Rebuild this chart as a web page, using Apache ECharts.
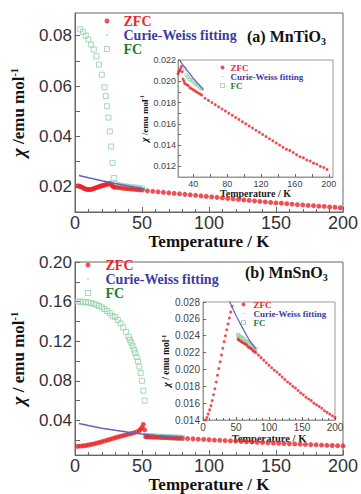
<!DOCTYPE html>
<html>
<head>
<meta charset="utf-8">
<script src="https://cdn.jsdelivr.net/npm/echarts@6/dist/echarts.min.js"></script>
<style>
  html, body { margin: 0; padding: 0; background: #fff; }
  #chart { width: 361px; height: 494px; }
</style>
</head>
<body>
<div id="chart"></div>
<script>
// (a) MnTiO3 : [T (K), chi (emu/mol)]
const zfcA = [
  [2,0.0204],[3,0.0203],[4,0.0201],[5,0.0199],[6,0.0196],[7,0.0193],[8,0.0191],[9,0.0190],[10,0.0189],
  [11,0.0189],[12,0.0190],[13,0.0191],[14,0.0193],[15,0.0195],[16,0.0197],[17,0.0199],[18,0.0201],
  [19,0.0203],[20,0.0204],[21,0.0206],[22,0.0207],[23,0.0209],[24,0.0210],[25,0.0212],[26,0.0214],
  [27,0.0209],[28,0.0202],[29,0.0200],[30,0.0198],[32,0.0197],[34,0.0196],[36,0.0194],[38,0.0193],
  [40,0.0192],[42,0.0191],[44,0.0190],[46,0.0189],[48,0.0188],[50,0.0187],
  [54,0.0184],[58,0.0182],[62,0.0180],[66,0.0178],[70,0.0176],[74,0.0174],[78,0.0172],[82,0.0170],
  [86,0.0168],[90,0.0166],[94,0.0164],[98,0.0162],[102,0.0160],[106,0.0158],[110,0.0156],[114,0.0154],
  [118,0.0152],[122,0.0150],[126,0.0148],[130,0.0146],[134,0.0144],[138,0.0142],[142,0.0140],[146,0.0138],
  [150,0.0136],[154,0.0135],[158,0.0133],[162,0.0131],[166,0.0129],[170,0.0128],[174,0.0126],[178,0.0125],
  [182,0.0123],[186,0.0122],[190,0.0120],[194,0.0119],[198,0.0117]
];
const fcA = [
  [4,0.0825],[6,0.0815],[8,0.0800],[10,0.0785],[12,0.0765],[14,0.0745],[16,0.0718],[18,0.0685],
  [20,0.0645],[22,0.0595],[23,0.0560],[24,0.0520],[25,0.0475],[26,0.0420],[27,0.0360],[28,0.0295],
  [29,0.0235],[30,0.0212],[32,0.0206],[34,0.0204],[36,0.0202],[38,0.0201],[40,0.0200],[42,0.0198],
  [44,0.0197],[46,0.0196],[48,0.0194],[50,0.0193]
];
const cwA = [[3,0.0245],[10,0.0236],[20,0.0224],[30,0.0213],[40,0.0203],[52,0.0192]];

// (b) MnSnO3
const zfcB = [
  [2,0.0138],[4,0.0140],[6,0.0143],[8,0.0147],[10,0.0152],[12,0.0157],[14,0.0163],[16,0.0170],
  [18,0.0177],[20,0.0185],[22,0.0193],[24,0.0201],[26,0.0209],[28,0.0217],[30,0.0225],[32,0.0233],
  [34,0.0240],[36,0.0247],[38,0.0254],[40,0.0261],[42,0.0268],[44,0.0275],[46,0.0285],[48,0.0298],
  [49,0.0312],[50,0.0330],[51,0.0360],[52,0.0305],
  [53,0.0236],[54,0.0235],[56,0.0234],[58,0.0233],[60,0.0232],[62,0.0231],[64,0.0230],[66,0.0229],
  [68,0.0227],[70,0.0226],[72,0.0225],[74,0.0224],[76,0.0222],[78,0.0221],[80,0.0220],
  [84,0.0217],[88,0.0214],[92,0.0211],[96,0.0208],[100,0.0205],[104,0.0202],[108,0.0199],[112,0.0197],
  [116,0.0194],[120,0.0191],[124,0.0188],[128,0.0185],[132,0.0183],[136,0.0180],[140,0.0178],[144,0.0175],
  [148,0.0172],[152,0.0170],[156,0.0167],[160,0.0165],[164,0.0163],[168,0.0160],[172,0.0158],[176,0.0156],
  [180,0.0154],[184,0.0151],[188,0.0149],[192,0.0147],[196,0.0145],[200,0.0143]
];
const fcB = [
  [2,0.1600],[4,0.1600],[6,0.1598],[8,0.1595],[10,0.1590],[12,0.1585],[14,0.1578],[16,0.1568],
  [18,0.1556],[20,0.1542],[22,0.1525],[24,0.1505],[26,0.1482],[28,0.1456],[30,0.1445],[32,0.1415],
  [34,0.1380],[36,0.1340],[38,0.1295],[40,0.1245],[41,0.1215],[42,0.1185],[43,0.1150],[44,0.1115],
  [45,0.1080],[46,0.1040],[47,0.0995],[48,0.0945],[49,0.0880],[50,0.0800],[51,0.0700],[52,0.0600],
  [53,0.0241],[54,0.0240],[56,0.0239],[58,0.0238],[60,0.0237],[62,0.0236],[64,0.0234],[66,0.0233],
  [68,0.0232],[70,0.0231],[72,0.0229],[74,0.0228],[76,0.0227],[78,0.0225],[80,0.0224]
];
const cwB = [[3,0.0370],[10,0.0348],[20,0.0321],[30,0.0300],[40,0.0281],[50,0.0264],[60,0.0249],[70,0.0235],[80,0.0224]];

// tick values
const yLabelsA = [0.02, 0.04, 0.06, 0.08];
const yTicksA = [0.02, 0.03, 0.04, 0.05, 0.06, 0.07, 0.08];
const yLabelsB = [0.04, 0.08, 0.12, 0.16, 0.20];
const yTicksB = [0.02, 0.04, 0.06, 0.08, 0.10, 0.12, 0.14, 0.16, 0.18, 0.20];
const xLabelsInsetA = [40, 80, 120, 160, 200];
const xTicksInsetA = [40, 60, 80, 100, 120, 140, 160, 180, 200];
const yLabelsInsetA = [0.012, 0.014, 0.016, 0.018, 0.020, 0.022];
const yTicksInsetA = [0.012, 0.013, 0.014, 0.015, 0.016, 0.017, 0.018, 0.019, 0.020, 0.021, 0.022];

const RED = '#e8262b';
const BLUE = '#3b3ba0';
const LINE_BLUE = '#6262bb';
const GREEN = '#1f7a30';
const GREEN_L = '#8fcfa8';
const SERIF = '"Liberation Serif", "Times New Roman", serif';
const SANS = '"Liberation Sans", Arial, sans-serif';

// legend icons drawn inside a square box so they keep their shape
const DASH_ICON = 'path://M0,0M6,6M1.5,2.5H4.5V3.5H1.5Z';
const SQUARE_ICON = 'path://M0.5,0.5H5.5V5.5H0.5Z';

const chart = echarts.init(document.getElementById('chart'), null, { renderer: 'svg' });

function chiName(size, text) {
  return {
    name: '{c|χ}{t|' + text + '}{s|-1}',
    nameTextStyle: {
      rich: {
        c: { fontFamily: SERIF, fontWeight: 'bold', fontStyle: 'italic', fontSize: size * 1.1, color: '#111' },
        t: { fontFamily: SERIF, fontWeight: 'bold', fontSize: size, color: '#111' },
        s: { fontFamily: SERIF, fontWeight: 'bold', fontSize: size * 0.6, lineHeight: size * 0.6, verticalAlign: 'top', color: '#111' }
      }
    }
  };
}

function xAxis(grid, min, max, opt) {
  return Object.assign({
    gridIndex: grid, type: 'value', min: min, max: max,
    axisLine: { lineStyle: { color: '#666' } },
    splitLine: { show: false },
    nameLocation: 'middle'
  }, opt);
}

const tickStyle = { color: '#666' };

function legendBox(left, top, iconSize, fontSize, gap, textPad) {
  return {
    left: left, top: top, padding: 0, orient: 'vertical', itemGap: gap,
    itemWidth: iconSize, itemHeight: iconSize, selectedMode: false,
    textStyle: { fontFamily: SERIF, fontWeight: 'bold', fontSize: fontSize, padding: [0, 0, 0, textPad] },
    data: [
      { name: 'ZFC', icon: 'circle', itemStyle: { color: RED, borderWidth: 0 }, textStyle: { color: RED } },
      { name: 'Curie-Weiss fitting', icon: DASH_ICON, itemStyle: { color: '#9db0d8', borderWidth: 0 }, textStyle: { color: BLUE } },
      { name: 'FC', icon: SQUARE_ICON, itemStyle: { color: 'transparent', borderColor: GREEN_L, borderWidth: 1 }, textStyle: { color: GREEN } }
    ]
  };
}

function panelSeries(i, fc, cw, zfc, size, lw) {
  return [
    {
      name: 'FC', type: 'scatter', xAxisIndex: i, yAxisIndex: i, data: fc, silent: true,
      symbol: 'rect', symbolSize: size,
      itemStyle: { color: 'transparent', borderColor: GREEN_L, borderWidth: 1 }
    },
    {
      name: 'Curie-Weiss fitting', type: 'line', xAxisIndex: i, yAxisIndex: i, data: cw, silent: true,
      showSymbol: false, lineStyle: { color: LINE_BLUE, width: lw }
    },
    {
      name: 'ZFC', type: 'scatter', xAxisIndex: i, yAxisIndex: i, data: zfc, silent: true,
      symbol: 'circle', symbolSize: size, itemStyle: { color: RED }
    }
  ];
}

const option = {
  animation: false,
  backgroundColor: '#fff',
  grid: [
    { left: 75, top: 13, width: 269, height: 199, show: true, borderColor: '#666', borderWidth: 1 },
    { left: 178, top: 60, width: 155, height: 117, show: true, borderColor: '#999', borderWidth: 1, backgroundColor: '#fff' },
    { left: 75, top: 262, width: 269, height: 196, show: true, borderColor: '#666', borderWidth: 1 },
    { left: 203, top: 302, width: 132, height: 118, show: true, borderColor: '#999', borderWidth: 1, backgroundColor: '#fff' }
  ],
  xAxis: [
    xAxis(0, 0, 200, {
      interval: 50,
      axisTick: { inside: true, length: 5, lineStyle: tickStyle },
      minorTick: { show: true, splitNumber: 5, length: 3, lineStyle: tickStyle },
      axisLabel: { margin: 2, fontSize: 18, color: '#333', fontFamily: SANS },
      name: 'Temperature / K', nameGap: 18,
      nameTextStyle: { fontFamily: SERIF, fontWeight: 'bold', fontSize: 17, color: '#111' }
    }),
    xAxis(1, 22, 205, {
      axisTick: { inside: true, length: 3, lineStyle: tickStyle, customValues: xTicksInsetA },
      axisLabel: { margin: 2, fontSize: 9, color: '#444', fontFamily: SANS, customValues: xLabelsInsetA },
      axisLine: { lineStyle: { color: '#999' } },
      name: 'Temperature / K', nameGap: 10,
      nameTextStyle: { fontFamily: SERIF, fontWeight: 'bold', fontSize: 10, color: '#222' }
    }),
    xAxis(2, 0, 200, {
      interval: 50,
      axisTick: { inside: true, length: 5, lineStyle: tickStyle },
      minorTick: { show: true, splitNumber: 5, length: 3, lineStyle: tickStyle },
      axisLabel: { margin: 2, fontSize: 18, color: '#333', fontFamily: SANS },
      name: 'Temperature / K', nameGap: 18,
      nameTextStyle: { fontFamily: SERIF, fontWeight: 'bold', fontSize: 17, color: '#111' }
    }),
    xAxis(3, 0, 200, {
      interval: 50,
      axisTick: { inside: true, length: 3, lineStyle: tickStyle },
      minorTick: { show: true, splitNumber: 5, length: 2, lineStyle: tickStyle },
      axisLabel: { margin: 2, fontSize: 10, color: '#444', fontFamily: SANS },
      axisLine: { lineStyle: { color: '#999' } },
      name: 'Temperature / K', nameGap: 12,
      nameTextStyle: { fontFamily: SERIF, fontWeight: 'bold', fontSize: 10.5, color: '#222' }
    })
  ],
  yAxis: [
    Object.assign({
      gridIndex: 0, type: 'value', min: 0.01, max: 0.089,
      axisLine: { show: true, lineStyle: { color: '#666' } },
      splitLine: { show: false },
      axisTick: { inside: true, length: 5, lineStyle: tickStyle, customValues: yTicksA },
      axisLabel: { margin: 3, fontSize: 17, color: '#333', fontFamily: SANS, customValues: yLabelsA, formatter: v => v.toFixed(2) },
      nameLocation: 'middle', nameRotate: 90, nameGap: 42
    }, chiName(17, ' /emu mol')),
    Object.assign({
      gridIndex: 1, type: 'value', min: 0.011, max: 0.022,
      axisLine: { show: true, lineStyle: { color: '#999' } },
      splitLine: { show: false },
      axisTick: { inside: true, length: 3, lineStyle: tickStyle, customValues: yTicksInsetA },
      axisLabel: { margin: 2, fontSize: 9, color: '#444', fontFamily: SANS, customValues: yLabelsInsetA, formatter: v => v.toFixed(3) },
      nameLocation: 'middle', nameRotate: 90, nameGap: 26
    }, chiName(9, ' /emu mol')),
    Object.assign({
      gridIndex: 2, type: 'value', min: 0.005, max: 0.2,
      axisLine: { show: true, lineStyle: { color: '#666' } },
      splitLine: { show: false },
      axisTick: { inside: true, length: 5, lineStyle: tickStyle, customValues: yTicksB },
      axisLabel: { margin: 3, fontSize: 17, color: '#333', fontFamily: SANS, customValues: yLabelsB, formatter: v => v.toFixed(2) },
      nameLocation: 'middle', nameRotate: 90, nameGap: 42
    }, chiName(17, ' / emu mol')),
    Object.assign({
      gridIndex: 3, type: 'value', min: 0.014, max: 0.028, interval: 0.002,
      axisLine: { show: true, lineStyle: { color: '#999' } },
      splitLine: { show: false },
      axisTick: { inside: true, length: 3, lineStyle: tickStyle },
      axisLabel: { margin: 3, fontSize: 10, color: '#444', fontFamily: SANS, formatter: v => v.toFixed(3) },
      nameLocation: 'middle', nameRotate: 90, nameGap: 31
    }, chiName(9.5, ' / emu mol'))
  ],
  title: [
    {
      left: 247, top: 26, padding: 0,
      text: '{n|(a) MnTiO}{s|3}',
      textStyle: { rich: {
        n: { fontFamily: SERIF, fontWeight: 'bold', fontSize: 16, lineHeight: 20, color: '#111' },
        s: { fontFamily: SERIF, fontWeight: 'bold', fontSize: 10, lineHeight: 10, verticalAlign: 'bottom', color: '#111' }
      } }
    },
    {
      left: 245, top: 262, padding: 0,
      text: '{n|(b) MnSnO}{s|3}',
      textStyle: { rich: {
        n: { fontFamily: SERIF, fontWeight: 'bold', fontSize: 16, lineHeight: 20, color: '#111' },
        s: { fontFamily: SERIF, fontWeight: 'bold', fontSize: 10, lineHeight: 10, verticalAlign: 'bottom', color: '#111' }
      } }
    }
  ],
  legend: [
    legendBox(104, 14, 5, 14, 0, 9),
    legendBox(220, 63, 4, 9, 0, 1),
    legendBox(85, 258, 5, 14, 0, 10),
    legendBox(241, 300, 4, 9, 0, 3)
  ],
  series: [
    ...panelSeries(0, fcA, cwA, zfcA, 5, 1.5),
    ...panelSeries(1, fcA, cwA, zfcA, 3, 1.2),
    ...panelSeries(2, fcB, cwB, zfcB, 5, 1.5),
    ...panelSeries(3, fcB, cwB, zfcB, 3, 1.2)
  ]
};

chart.setOption(option);
</script>
</body>
</html>
